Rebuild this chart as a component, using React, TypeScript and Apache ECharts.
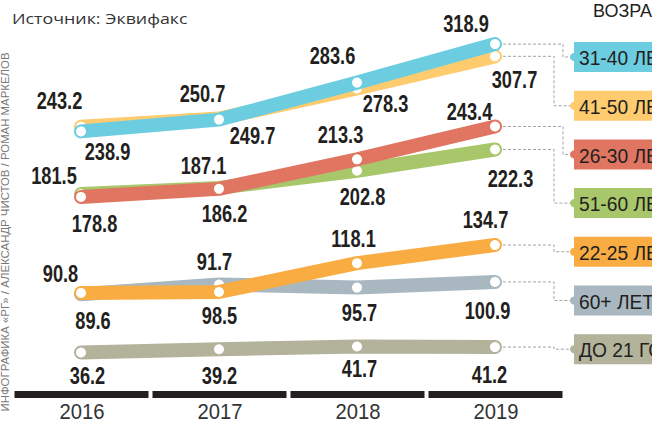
import React, { useEffect, useRef } from "react";
import * as echarts from "echarts";

// ---- data ----
const years = ["2016", "2017", "2018", "2019"];
const age31_40 = [238.9, 249.7, 283.6, 318.9];
const age41_50 = [243.2, 250.7, 278.3, 307.7];
const age26_30 = [178.8, 186.2, 213.3, 243.4];
const age51_60 = [181.5, 187.1, 202.8, 222.3];
const age22_25 = [90.8, 91.7, 118.1, 134.7];
const age60plus = [89.6, 98.5, 95.7, 100.9];
const ageUnder21 = [36.2, 39.2, 41.7, 41.2];
const legendNames = ["31-40 ЛЕТ", "41-50 ЛЕТ", "26-30 ЛЕТ", "51-60 ЛЕТ", "22-25 ЛЕТ", "60+ ЛЕТ", "ДО 21 ГОДА"];
const sourceText = "Источник: Эквифакс";
const headerText = "ВОЗРАСТ";
const creditText = "ИНФОГРАФИКА «РГ» / АЛЕКСАНДР ЧИСТОВ / РОМАН МАРКЕЛОВ";

// ---- layout / style ----
const SANS = "'Liberation Sans', Arial, sans-serif";
const colors: Record<string, string> = {
  "31-40 ЛЕТ": "#6ccde1",
  "41-50 ЛЕТ": "#fecb6e",
  "26-30 ЛЕТ": "#e07662",
  "51-60 ЛЕТ": "#a8c66a",
  "22-25 ЛЕТ": "#f9ac42",
  "60+ ЛЕТ": "#a8b7c0",
  "ДО 21 ГОДА": "#b3b29a",
};
// label offsets [dx, dy] from each point
const labelOffsets: Record<string, number[][]> = {
  "31-40 ЛЕТ": [[26.5, 21], [33.5, 16.5], [-24.5, -26], [-29, -20]],
  "41-50 ЛЕТ": [[-21.5, -25.7], [-16.5, -24.5], [28.5, 15.6], [19.5, 23.7]],
  "26-30 ЛЕТ": [[13.5, 27.5], [5.5, 25], [-16.5, -24], [-25.5, -14]],
  "51-60 ЛЕТ": [[-27, -17.5], [-15.5, -21.4], [5.5, 26.7], [15.5, 29.5]],
  "22-25 ЛЕТ": [[-20.5, -19], [-4.5, -29.5], [-3.5, -24], [-9.5, -25]],
  "60+ ЛЕТ": [[12, 26.7], [0.5, 31.5], [2.5, 26], [-7.5, 29]],
  "ДО 21 ГОДА": [[6.5, 24], [0.5, 27.3], [2.5, 22.5], [-5.5, 28]],
};
const connectorJogX: Record<string, number> = {
  "31-40 ЛЕТ": 563,
  "41-50 ЛЕТ": 554,
  "26-30 ЛЕТ": 563,
  "51-60 ЛЕТ": 554,
  "22-25 ЛЕТ": 554,
  "60+ ЛЕТ": 554,
  "ДО 21 ГОДА": 554,
};

const valuesByName: Record<string, number[]> = {
  "31-40 ЛЕТ": age31_40,
  "41-50 ЛЕТ": age41_50,
  "26-30 ЛЕТ": age26_30,
  "51-60 ЛЕТ": age51_60,
  "22-25 ЛЕТ": age22_25,
  "60+ ЛЕТ": age60plus,
  "ДО 21 ГОДА": ageUnder21,
};
// drawing order (later on top)
const drawOrder = ["41-50 ЛЕТ", "31-40 ЛЕТ", "51-60 ЛЕТ", "26-30 ЛЕТ", "60+ ЛЕТ", "22-25 ЛЕТ", "ДО 21 ГОДА"];

export default function App() {
  const ref = useRef<HTMLDivElement>(null);
  useEffect(() => {
    if (!ref.current) return;
    const chart = echarts.init(ref.current, undefined, { renderer: "svg" });

    const lineSeries = drawOrder.map((name, si) => ({
      type: "line",
      name,
      z: 3 + si,
      data: valuesByName[name],
      symbol: "circle",
      symbolSize: 10,
      showAllSymbol: true,
      itemStyle: { color: "#ffffff", borderWidth: 0 },
      lineStyle: { color: colors[name], width: 14, cap: "round", join: "round" },
      emphasis: { disabled: true },
      silent: true,
      clip: false,
    }));

    const labelSeries = drawOrder.map((name) => ({
      type: "custom",
      name: name + " labels",
      z: 20,
      silent: true,
      clip: false,
      data: valuesByName[name].map((v, i) => [i, v]),
      renderItem: (params: any, api: any) => {
        const i = api.value(0);
        const v = api.value(1);
        const c = api.coord([i, v]);
        const off = labelOffsets[name][params.dataIndex];
        return {
          type: "text",
          x: c[0] + off[0],
          y: c[1] + off[1],
          scaleX: 0.76,
          style: {
            text: Number(v).toFixed(1),
            fontSize: 24,
            fontWeight: "bold",
            fontFamily: SANS,
            fill: "#231f20",
            align: "center",
            verticalAlign: "middle",
          },
        };
      },
    }));

    const barSeries = {
      type: "custom",
      silent: true,
      z: 1,
      clip: false,
      data: years.map((_, i) => [i, 0]),
      renderItem: (params: any, api: any) => {
        const idx = api.value(0);
        const c = api.coord([idx, 0]);
        const bw = api.size([1, 0])[0];
        return {
          type: "group",
          children: [
            {
              type: "rect",
              shape: { x: c[0] - bw / 2 + 2.5, y: c[1] - 1, width: bw - 4, height: 7 },
              style: { fill: "#231f20" },
            },
            {
              type: "text",
              x: c[0] + 1,
              y: c[1] + 19.5,
              scaleX: 0.92,
              style: {
                text: years[idx],
                fontSize: 22,
                fontFamily: SANS,
                fill: "#333333",
                align: "center",
                verticalAlign: "middle",
              },
            },
          ],
        };
      },
    };

    const option: any = {
      animation: false,
      backgroundColor: "#ffffff",
      grid: { left: 12, right: 88, top: 32, bottom: 32 },
      xAxis: {
        type: "category",
        data: years,
        boundaryGap: true,
        axisLine: { show: false },
        axisTick: { show: false },
        axisLabel: { show: false },
      },
      yAxis: { type: "value", min: 0, max: 330, show: false, splitLine: { show: false } },
      series: [barSeries, ...lineSeries, ...labelSeries],
    };
    chart.setOption(option);

    const graphics: any[] = [];
    graphics.push({
      type: "text",
      x: 12,
      y: 18,
      scaleX: 1.19,
      style: {
        text: sourceText,
        fontSize: 15,
        fontFamily: "'Open Sans', sans-serif",
        fill: "#333333",
        verticalAlign: "middle",
      },
    });
    graphics.push({
      type: "text",
      x: 593,
      y: 11,
      style: {
        text: headerText,
        fontSize: 18,
        fontFamily: SANS,
        fill: "#231f20",
        verticalAlign: "middle",
      },
    });
    graphics.push({
      type: "text",
      x: 5.5,
      y: 232,
      rotation: Math.PI / 2,
      scaleX: 1.14,
      style: {
        text: creditText,
        fontSize: 10,
        fontFamily: SANS,
        fill: "#777777",
        align: "center",
        verticalAlign: "middle",
      },
    });

    legendNames.forEach((name, k) => {
      const top = 42 + k * 48.7;
      const cy = top + 15;
      const vals = valuesByName[name];
      const si = drawOrder.indexOf(name) + 1;
      const p = chart.convertToPixel({ seriesIndex: si }, [vals.length - 1, vals[vals.length - 1]]) as number[];
      const jx = connectorJogX[name];
      graphics.push({
        type: "polyline",
        silent: true,
        shape: { points: [[p[0] + 8, p[1]], [jx, p[1]], [jx, cy], [571, cy]] },
        style: { stroke: "#a3a3a3", lineWidth: 1, lineDash: [3, 2], fill: null },
      });
      graphics.push({
        type: "rect",
        shape: { x: 574, y: top, width: 100, height: 30 },
        style: { fill: colors[name] },
      });
      graphics.push({
        type: "circle",
        shape: { cx: 574, cy, r: 4 },
        style: { fill: colors[name] },
      });
      graphics.push({
        type: "text",
        x: 579,
        y: cy + 1,
        scaleX: 0.96,
        style: {
          text: name,
          fontSize: 20,
          fontFamily: SANS,
          fill: "#231f20",
          verticalAlign: "middle",
        },
      });
    });
    chart.setOption({ graphic: graphics });

    return () => chart.dispose();
  }, []);
  return <div ref={ref} style={{ position: "fixed", left: 0, top: 0, width: 652, height: 424 }} />;
}
